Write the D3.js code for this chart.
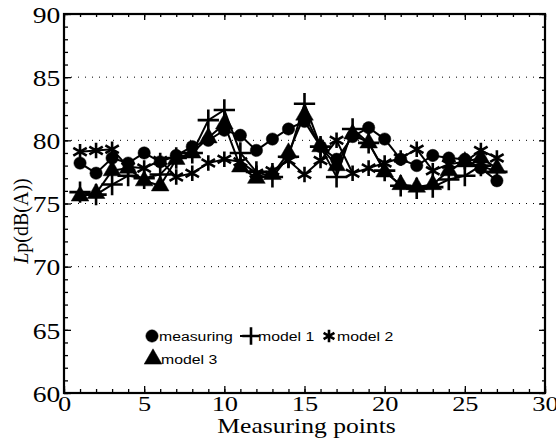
<!DOCTYPE html>
<html>
<head>
<meta charset="utf-8">
<script src="https://cdn.jsdelivr.net/npm/d3@7"></script>
<style>
  body { margin: 0; background: #fff; }
  .serif text, text.serif { font-family: "Liberation Serif", "Times New Roman", serif; }
</style>
</head>
<body>
<div id="container"></div>
<script>
/* CONSTANTS AND GLOBALS */
const width = 556;
const height = 439;

// DATA
const points    = [1, 2, 3, 4, 5, 6, 7, 8, 9, 10, 11, 12, 13, 14, 15, 16, 17, 18, 19, 20, 21, 22, 23, 24, 25, 26, 27];
const measuring = [78.2, 77.4, 78.6, 78.2, 79.0, 78.3, 78.8, 79.5, 80.0, 80.8, 80.4, 79.2, 80.1, 80.9, 81.5, 79.5, 78.5, 80.3, 81.0, 80.1, 78.5, 78.0, 78.8, 78.6, 78.5, 77.8, 76.8];
const model1    = [75.9, 75.7, 76.5, 77.2, 77.0, 77.3, 78.6, 79.0, 81.6, 82.4, 79.0, 77.5, 77.1, 78.7, 82.9, 79.5, 77.1, 80.9, 79.8, 77.6, 76.4, 76.2, 76.3, 76.9, 77.2, 78.0, 77.5];
const model2    = [79.1, 79.2, 79.3, 77.9, 77.8, 78.4, 77.1, 77.4, 78.2, 78.5, 78.3, 77.4, 77.6, 78.4, 77.3, 78.4, 80.0, 77.4, 77.8, 78.2, 78.6, 79.3, 77.6, 78.1, 78.3, 79.2, 78.6];
const model3    = [75.6, 75.8, 77.6, 77.8, 76.8, 76.4, 78.5, 79.0, 80.2, 81.3, 77.9, 77.0, 77.3, 79.0, 82.0, 79.5, 78.0, 80.5, 79.8, 77.5, 76.5, 76.3, 76.5, 77.6, 78.3, 78.6, 77.8];

const xMajor = [0, 5, 10, 15, 20, 25, 30];
const xMinor = [0,1,2,3,4,5,6,7,8,9,10,11,12,13,14,15,16,17,18,19,20,21,22,23,24,25,26,27,28,29,30];
const yMajor = [60, 65, 70, 75, 80, 85, 90];
const yMinor = [60,61,62,63,64,65,66,67,68,69,70,71,72,73,74,75,76,77,78,79,80,81,82,83,84,85,86,87,88,89,90];
const yGrid  = [70, 75, 80, 85];

const seriesNames = ["measuring", "model 1", "model 2", "model 3"];
const seriesData  = [measuring, model1, model2, model3];

// SCALES
const x = d3.scaleLinear().domain([0, 30]).range([64, 545]);
const y = d3.scaleLinear().domain([60, 90]).range([393, 14]);

const svg = d3.select("#container")
    .append("svg")
    .attr("width", width)
    .attr("height", height);

// GRID (dotted)
svg.selectAll(".grid")
    .data(yGrid)
    .join("line")
    .attr("class", "grid")
    .attr("x1", x(0)).attr("x2", x(30))
    .attr("y1", d => y(d)).attr("y2", d => y(d))
    .attr("stroke", "#000")
    .attr("stroke-width", 1)
    .attr("stroke-dasharray", "1,6");

// AXES
const textScale = "scale(1.2,1)";

svg.append("g")
    .attr("transform", `translate(0,${y(60)})`)
    .call(d3.axisBottom(x).tickValues(xMinor).tickSize(-4).tickFormat(""));
const xAxis = svg.append("g")
    .attr("class", "serif")
    .attr("transform", `translate(0,${y(60)})`)
    .call(d3.axisBottom(x).tickValues(xMajor).tickSize(-7).tickPadding(3).tickFormat(d3.format("d")));
xAxis.selectAll("text").attr("font-size", 22).attr("fill", "#000").attr("transform", textScale).attr("dy", "0.66em");

svg.append("g")
    .attr("transform", `translate(${x(0)},0)`)
    .call(d3.axisLeft(y).tickValues(yMinor).tickSize(-4).tickFormat(""));
const yAxis = svg.append("g")
    .attr("class", "serif")
    .attr("transform", `translate(${x(0)},0)`)
    .call(d3.axisLeft(y).tickValues(yMajor).tickSize(-7).tickPadding(3).tickFormat(d3.format("d")));
yAxis.selectAll("text").attr("font-size", 23).attr("fill", "#000").attr("transform", textScale).attr("dy", "0.36em");

// mirrored ticks on top / right
svg.append("g").attr("transform", `translate(0,${y(90)})`)
    .call(d3.axisBottom(x).tickValues(xMinor).tickSize(3).tickFormat(""));
svg.append("g").attr("transform", `translate(0,${y(90)})`)
    .call(d3.axisBottom(x).tickValues(xMajor).tickSize(6).tickFormat(""));
svg.append("g").attr("transform", `translate(${x(30)},0)`)
    .call(d3.axisLeft(y).tickValues(yMinor).tickSize(3).tickFormat(""));
svg.append("g").attr("transform", `translate(${x(30)},0)`)
    .call(d3.axisLeft(y).tickValues(yMajor).tickSize(6).tickFormat(""));

svg.selectAll(".domain").remove();
svg.selectAll(".tick line").attr("stroke", "#000").attr("stroke-width", 1.3);

// FRAME
svg.append("rect")
    .attr("x", x(0)).attr("y", y(90))
    .attr("width", x(30) - x(0)).attr("height", y(60) - y(90))
    .attr("fill", "none")
    .attr("stroke", "#000")
    .attr("stroke-width", 2.2);

// AXIS TITLES
svg.append("text")
    .attr("class", "serif")
    .attr("transform", `translate(${(x(0) + x(30)) / 2 + 2},433) scale(1.22,1)`)
    .attr("text-anchor", "middle")
    .attr("font-size", 21)
    .text("Measuring points");

const yTitle = svg.append("text")
    .attr("class", "serif")
    .attr("transform", `translate(28,221) rotate(-90)`)
    .attr("text-anchor", "middle")
    .attr("font-size", 20);
yTitle.append("tspan").attr("font-style", "italic").text("L");
yTitle.append("tspan").text("p(dB(A))");

// LINES
const line = d3.line()
    .x((d, i) => x(points[i]))
    .y(d => y(d));

svg.selectAll(".series-line")
    .data(seriesData)
    .join("path")
    .attr("class", "series-line")
    .attr("d", line)
    .attr("fill", "none")
    .attr("stroke", "#000")
    .attr("stroke-width", 2);

// MARKERS
const symCircle   = d3.symbol(d3.symbolCircle, 120);
const symPlus     = d3.symbol(d3.symbolPlus, 150);
const symAsterisk = d3.symbol(d3.symbolAsterisk, 170);
const symTriangle = d3.symbol(d3.symbolTriangle, 135);

function drawMarkers(data, cls, gen, filled) {
    svg.selectAll("." + cls)
        .data(data)
        .join("path")
        .attr("class", cls)
        .attr("d", gen)
        .attr("transform", (d, i) => `translate(${x(points[i])},${y(d)})`)
        .attr("fill", filled ? "#000" : "none")
        .attr("stroke", "#000")
        .attr("stroke-width", filled ? 0.5 : 2.6);
}

drawMarkers(model2, "m2", symAsterisk, false);
drawMarkers(model1, "m1", symPlus, false);
drawMarkers(measuring, "m0", symCircle, true);
drawMarkers(model3, "m3", symTriangle, true);

// LEGEND
const legend = svg.append("g")
    .attr("font-family", "'Liberation Sans', Arial, sans-serif")
    .attr("font-size", 13.5);

const legendItems = [
    {name: seriesNames[0], sym: symCircle,   filled: true,  sx: 152, tx: 159, y: 336},
    {name: seriesNames[1], sym: d3.symbol(d3.symbolPlus, 100), filled: false, sx: 251, tx: 258, y: 336},
    {name: seriesNames[2], sym: d3.symbol(d3.symbolAsterisk, 110), filled: false, sx: 329, tx: 337, y: 336},
    {name: seriesNames[3], sym: symTriangle, filled: true,  sx: 153, tx: 161, y: 359}
];

legend.selectAll(".leg-line")
    .data(legendItems.filter(d => d.name === "model 1"))
    .join("line")
    .attr("x1", d => d.sx - 11).attr("x2", d => d.sx + 7)
    .attr("y1", d => d.y).attr("y2", d => d.y)
    .attr("stroke", "#000").attr("stroke-width", 2);

legend.selectAll(".leg-sym")
    .data(legendItems)
    .join("path")
    .attr("d", d => d.sym())
    .attr("transform", d => `translate(${d.sx},${d.y})`)
    .attr("fill", d => d.filled ? "#000" : "none")
    .attr("stroke", "#000")
    .attr("stroke-width", d => d.filled ? 0.5 : 2.6);

legend.selectAll(".leg-text")
    .data(legendItems)
    .join("text")
    .attr("transform", d => `translate(${d.tx},${d.y + 5}) scale(1.17,1)`)
    .text(d => d.name);
</script>
</body>
</html>
